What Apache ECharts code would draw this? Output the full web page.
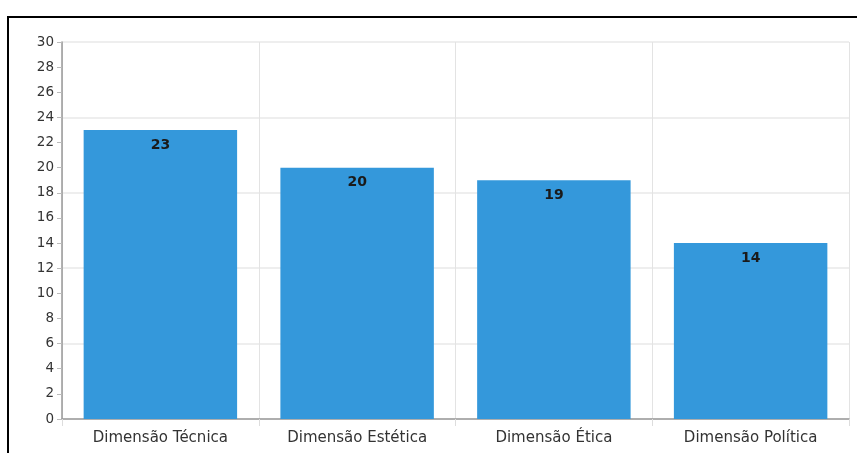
<!DOCTYPE html>
<html><head><meta charset="utf-8">
<script src="https://cdn.jsdelivr.net/npm/echarts@6/dist/echarts.min.js"></script>
<style>html,body{margin:0;padding:0;background:#fff;}#c{width:857px;height:453px;}#b{position:absolute;left:7px;top:16px;width:860px;height:450px;border-left:2px solid #000;border-top:2px solid #000;pointer-events:none;}</style>
</head><body><div id="c"></div><div id="b"></div>
<script>
const categories = ["Dimensão Técnica", "Dimensão Estética", "Dimensão Ética", "Dimensão Política"];
const values = [23, 20, 19, 14];
const chart = echarts.init(document.getElementById('c'));
const font = '"DejaVu Sans", sans-serif';
chart.setOption({
  animation: false,
  grid: {left: 62, right: 8, top: 42, bottom: 34},
  xAxis: {
    type: 'category', data: categories,
    axisLine: {lineStyle: {color: '#999', width: 1.5}},
    axisTick: {show: true, length: 7, lineStyle: {color: '#ddd'}},
    axisLabel: {color: '#333', fontSize: 15, fontFamily: font, margin: 12},
    splitLine: {show: true, lineStyle: {color: '#e3e3e3', width: 1}}
  },
  yAxis: [{
    type: 'value', min: 0, max: 30, interval: 2,
    axisLine: {show: true, lineStyle: {color: '#999', width: 1.5}},
    axisTick: {show: true, length: 5, lineStyle: {color: '#bbb'}},
    axisLabel: {color: '#333', fontSize: 13.5, fontFamily: font, margin: 8},
    splitLine: {show: false}
  }, {
    type: 'value', min: 0, max: 30, interval: 6, position: 'left',
    axisLine: {show: false}, axisTick: {show: false}, axisLabel: {show: false},
    splitLine: {show: true, lineStyle: {color: '#eeeeee', width: 2}}
  }],
  series: [{
    type: 'bar', data: values, barWidth: '78%',
    itemStyle: {color: '#3498db'},
    label: {show: true, position: 'insideTop', distance: 8, color: '#1a1a1a', fontWeight: 'bold', fontSize: 14, fontFamily: font}
  }]
});
</script></body></html>
